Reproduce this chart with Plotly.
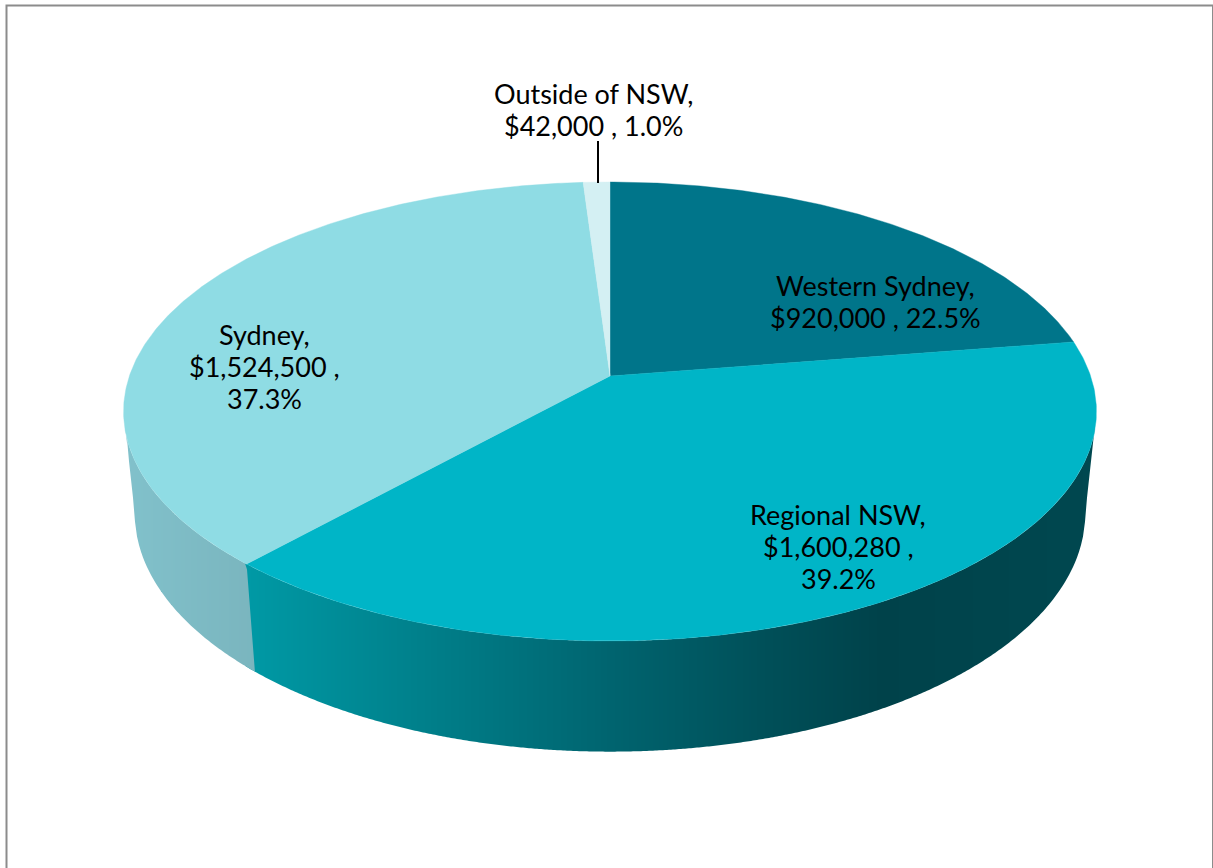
import math
import numpy as np
import plotly.graph_objects as go

# ---- data ----
categories = ["Western Sydney", "Regional NSW", "Sydney", "Outside of NSW"]
amounts = [920000, 1600280, 1524500, 42000]
shares = [22.5, 39.2, 37.3, 1.0]
label_wraps = ["{n},<br>{a} , {s}", "{n},<br>{a} ,<br>{s}", "{n},<br>{a} ,<br>{s}", "{n},<br>{a} , {s}"]

# ---- styling ----
top_colors = ["#00758A", "#00B5C7", "#8FDCE4", "#D4F0F3"]
# side shading, by horizontal position (x, rgb), per slice
regional_stops = [(247, (0, 153, 165)), (420, (0, 128, 139)), (610, (0, 100, 111)), (760, (0, 80, 89)),
                  (880, (0, 66, 74)), (1100, (0, 72, 80))]
sydney_stops = [(125, (129, 193, 203)), (255, (122, 181, 190))]
label_pos = [(875, 301), (838, 546), (264, 366.5), (593, 109.5)]
LINE_GAP = 32
FONT = "Lato"
FONT_SIZE = 27

# ---- projection of the tilted disc on the plot's axes ----
CX, TILT = 610.0, 0.1547
TOP_Y, TOP_H, TOP_W = 376.0, 224.0, 480.6
BOT_Y, BOT_H, BOT_W = 476.0, 233.0, 469.6


def project(theta_deg, y0, h, w):
    t = np.radians(theta_deg)
    d = 1 + TILT * np.cos(t)
    return CX + w * np.sin(t) / d, y0 - h * np.cos(t) / d


def top(theta):
    return project(theta, TOP_Y, TOP_H, TOP_W)


def bottom(theta):
    return project(theta, BOT_Y, BOT_H, BOT_W)


def shade(stops, x):
    xs = [s[0] for s in stops]
    return tuple(int(round(np.interp(x, xs, [s[1][c] for s in stops]))) for c in range(3))


total = sum(amounts)
edges = [0.0]
for a in amounts:
    edges.append(edges[-1] + 360.0 * a / total)

fig = go.Figure()

# envelope of the visible wall, as functions of x
extreme = math.degrees(math.acos(-TILT))  # rim angle of the widest point, right side
arc = np.linspace(extreme, 360 - extreme, 1500)
tx, ty = top(arc)
bx, by = bottom(arc)
upper_x, upper_y = tx[::-1], ty[::-1]
lower_x = np.concatenate(([upper_x[0]], bx[::-1], [upper_x[-1]]))
lower_y = np.concatenate(([upper_y[0]], by[::-1], [upper_y[-1]]))


def wall_top(x):
    return float(np.interp(x, upper_x, upper_y))


def wall_bottom(x):
    return float(np.interp(x, lower_x, lower_y))


# seam between the two visible slices on the wall
sx0, sy0 = (float(v) for v in top(edges[2]))
sx1, sy1 = (float(v) for v in bottom(edges[2]))


def seam_y(x):
    return sy0 + (sy1 - sy0) * (x - sx0) / (sx1 - sx0)


COL = 2
regional_bands, sydney_bands = {}, {}


def add_band(store, color, x0, x1, a0, a1, b0, b1):
    px = store.setdefault(color, ([], []))
    px[0].extend([x0, x1, x1, x0, x0, None])
    px[1].extend([a0, a1, b1, b0, a0, None])


xmin, xmax = int(math.floor(upper_x[0])), int(math.ceil(upper_x[-1]))
for x0 in range(xmin, xmax, COL):
    x1 = x0 + COL
    xa, xb = max(x0, float(upper_x[0])), min(x1, float(upper_x[-1]))
    if x1 > sx0:  # Regional NSW wall
        c = "rgb(%d,%d,%d)" % shade(regional_stops, x0)
        add_band(regional_bands, c, xa, xb, wall_top(xa), wall_top(xb), wall_bottom(xa), wall_bottom(xb))
    if x0 < sx1:  # Sydney wall painted over it, left of the seam
        c = "rgb(%d,%d,%d)" % shade(sydney_stops, x0)
        a0 = wall_top(xa) if xa <= sx0 else seam_y(xa)
        a1 = wall_top(xb) if xb <= sx0 else seam_y(xb)
        add_band(sydney_bands, c, xa, xb, a0, a1, wall_bottom(xa), wall_bottom(xb))

for store in (regional_bands, sydney_bands):
    for color, (xs, ys) in store.items():
        fig.add_trace(go.Scatter(x=xs, y=ys, mode="lines", fill="toself", fillcolor=color,
                                 line=dict(width=0), hoverinfo="skip", showlegend=False))

# top face of each slice
for i, name in enumerate(categories):
    a0, a1 = edges[i], edges[i + 1]
    n = max(4, int(a1 - a0) * 2)
    rx, ry = top(np.linspace(a0, a1, n + 1))
    fig.add_trace(go.Scatter(
        x=[CX] + list(rx) + [CX], y=[TOP_Y] + list(ry) + [TOP_Y], mode="lines", fill="toself",
        fillcolor=top_colors[i], line=dict(color=top_colors[i], width=0.4), name=name,
        hoverinfo="name", showlegend=False))

# leader line of the smallest slice
lx, ly = top((edges[3] + edges[4]) / 2)
lx = round(float(lx)) + 1
fig.add_trace(go.Scatter(x=[lx, lx], y=[float(ly) + 1, 141], mode="lines",
                         line=dict(color="#000000", width=2), hoverinfo="skip", showlegend=False))

for i, name in enumerate(categories):
    text = label_wraps[i].format(n=name, a="${:,}".format(amounts[i]), s="{:.1f}%".format(shares[i]))
    lines = text.split("<br>")
    for j, line in enumerate(lines):
        fig.add_annotation(x=label_pos[i][0], y=label_pos[i][1] + (j - (len(lines) - 1) / 2) * LINE_GAP,
                           text=line, showarrow=False, xanchor="center", yanchor="middle", align="center",
                           font=dict(family=FONT, size=FONT_SIZE, color="#000000"))

fig.update_layout(
    width=1213, height=868, autosize=False, margin=dict(l=0, r=0, t=0, b=0),
    paper_bgcolor="#FFFFFF", plot_bgcolor="#FFFFFF", showlegend=False,
    xaxis=dict(range=[0, 1213], visible=False, fixedrange=True),
    yaxis=dict(range=[868, 0], visible=False, fixedrange=True),
    shapes=[dict(type="rect", xref="x", yref="y", x0=6.5, y0=5.5, x1=1213, y1=900,
                 line=dict(color="#8C8C8C", width=2), layer="below")],
)

fig.write_html("out.html", config={"displayModeBar": False},
               post_script="document.body.style.margin='0';document.documentElement.style.overflow='hidden';")
